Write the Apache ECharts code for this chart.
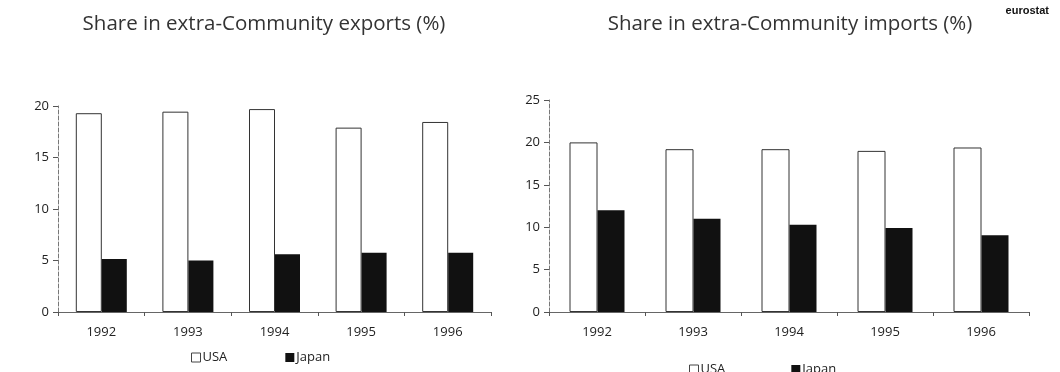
<!DOCTYPE html>
<html>
<head>
    <meta charset="utf-8">
    <script src="https://cdn.jsdelivr.net/npm/echarts@6/dist/echarts.min.js"></script>
    <style>
        body { margin: 0; background: #fff; }
        #main { width: 1060px; height: 372px; }
    </style>
</head>
<body>
    <div id="main"></div>
    <script type="text/javascript">
        // data
        var years = ['1992', '1993', '1994', '1995', '1996'];
        var exportsUSA = [19.3, 19.45, 19.7, 17.9, 18.45];
        var exportsJapan = [5.15, 5.0, 5.6, 5.75, 5.75];
        var importsUSA = [20.0, 19.2, 19.2, 19.0, 19.4];
        var importsJapan = [12.0, 11.0, 10.3, 9.9, 9.05];

        var font = '"Open Sans", sans-serif';
        var txt = '#222';

        function yAxisFor(grid, max) {
            return {
                type: 'value', gridIndex: grid, min: 0, max: max, interval: 5,
                axisLine: { show: true, lineStyle: { color: '#777', width: 1, type: [4, 2] } },
                axisTick: { show: true, length: 5, lineStyle: { color: '#555' } },
                axisLabel: { color: txt, fontSize: 13, fontFamily: font, margin: 9 },
                splitLine: { show: false }
            };
        }
        function xAxisFor(grid) {
            return {
                type: 'category', gridIndex: grid, data: years,
                axisLine: { lineStyle: { color: '#666', width: 1 } },
                axisTick: { show: true, length: 4, inside: false, lineStyle: { color: '#555' } },
                axisLabel: { color: txt, fontSize: 13, fontFamily: font, margin: 14 }
            };
        }
        function usaSeries(x, data, w) {
            return {
                name: 'USA', type: 'bar', xAxisIndex: x, yAxisIndex: x, data: data,
                barWidth: w, barGap: '0%',
                itemStyle: { color: '#fff', borderColor: '#333', borderWidth: 1 }
            };
        }
        function japanSeries(x, data, w) {
            return {
                name: 'Japan', type: 'bar', xAxisIndex: x, yAxisIndex: x, data: data,
                barWidth: w, barGap: '0%',
                itemStyle: { color: '#111' }
            };
        }
        function legendAt(left, top, gap) {
            return {
                data: [
                    { name: 'USA', itemStyle: { color: '#fff', borderColor: '#444', borderWidth: 1 } },
                    { name: 'Japan', itemStyle: { color: '#111' } }
                ],
                left: left, top: top, icon: 'rect', itemWidth: 9, itemHeight: 9, itemGap: gap,
                textStyle: { color: txt, fontSize: 13, fontFamily: font, padding: [0, 0, 0, -3] },
                selectedMode: false
            };
        }

        var myChart = echarts.init(document.getElementById('main'));
        myChart.setOption({
            animation: false,
            backgroundColor: '#fff',
            title: [
                { text: 'Share in extra-Community exports (%)', left: 259, top: 9, textAlign: 'center',
                  textStyle: { color: '#333', fontSize: 20.5, fontWeight: 'normal', fontFamily: font } },
                { text: 'Share in extra-Community imports (%)', left: 785, top: 9, textAlign: 'center',
                  textStyle: { color: '#333', fontSize: 20.5, fontWeight: 'normal', fontFamily: font } },
                { text: 'eurostat', right: 6, top: 0,
                  textStyle: { color: '#111', fontSize: 11, fontWeight: 'bold', fontFamily: 'Liberation Sans, sans-serif' } }
            ],
            legend: [legendAt(186, 346, 58), legendAt(684, 358, 66)],
            grid: [
                { left: 58, right: 569, top: 106, bottom: 60 },
                { left: 549, right: 31, top: 100, bottom: 60 }
            ],
            xAxis: [xAxisFor(0), xAxisFor(1)],
            yAxis: [yAxisFor(0, 20), yAxisFor(1, 25)],
            series: [
                usaSeries(0, exportsUSA, 26),
                japanSeries(0, exportsJapan, 25),
                usaSeries(1, importsUSA, 28),
                japanSeries(1, importsJapan, 27)
            ]
        });
    </script>
</body>
</html>
